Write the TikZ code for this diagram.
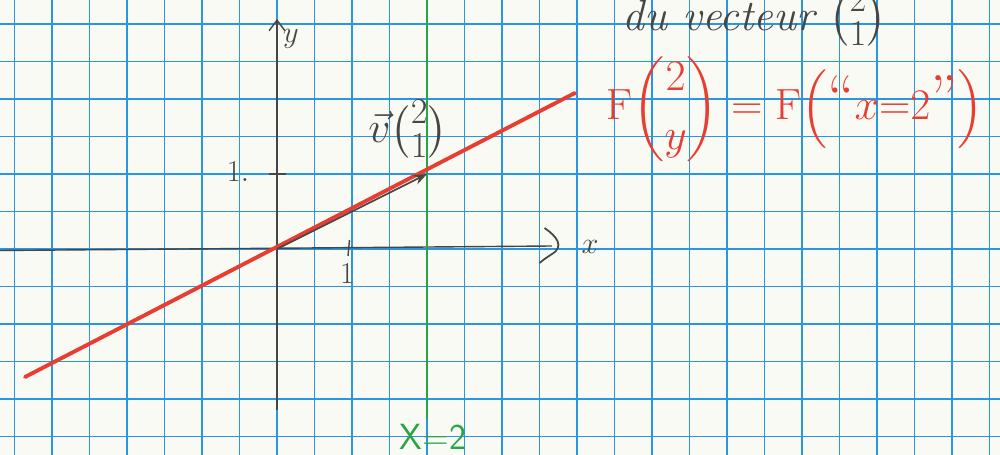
\documentclass[tikz,border=0pt]{standalone}
\usepackage{amsmath}
\usepackage{tikz}
\usetikzlibrary{arrows.meta, positioning}

\definecolor{paper}{RGB}{250,250,244}
\definecolor{gridblue}{RGB}{40,150,225}
\definecolor{pencil}{RGB}{70,70,70}
\definecolor{redpen}{RGB}{232,62,50}
\definecolor{greenpen}{RGB}{40,165,70}

\begin{document}
\begin{tikzpicture}[
    >=Stealth,
    gridline/.style={gridblue, line width=0.9pt},
    axis/.style={pencil, line width=0.8pt},
    lbl/.style={pencil, inner sep=1pt},
    redlbl/.style={redpen, inner sep=1pt},
]
% === Paper and grid ===
\useasboundingbox (-5.54,-4.12) rectangle (14.46,4.98);
\fill[paper] (-5.54,-4.12) rectangle (14.46,4.98);
\foreach \i in {-7,...,19} {
    \draw[gridline] (\i*0.75,-4.12) -- (\i*0.75,4.98);
}
\foreach \j in {-5,...,6} {
    \draw[gridline] (-5.54,\j*0.75) -- (14.46,\j*0.75);
}
%
\coordinate (O) at (0,0);
\coordinate (V) at (3,1.5);
% === Axes ===
\draw[axis, -{Straight Barb[length=6pt, width=9pt]}] (0,-3.22) -- (0,4.6);
\draw[axis] (-5.54,-0.03) -- (5.5,0.06);
\draw[axis, line width=1pt] (5.35,0.42) .. controls (5.6,0.25) and (5.75,0.05) .. (5.5,-0.1)
    .. controls (5.35,-0.2) .. (5.25,-0.28);
\node[lbl, font=\LARGE] (ylbl) at (0.28,4.2) {$y$};
\node[lbl, font=\LARGE] (xlbl) at (6.26,0.05) {$x$};
% ticks
\draw[axis] (1.45,0.18) -- (1.42,-0.14);
\node[lbl, font=\LARGE] (xone) at (1.4,-0.5) {$1$};
\draw[axis] (-0.15,1.5) -- (0.18,1.5);
\node[lbl, font=\LARGE] (yone) at (-0.78,1.55) {$1.$};
% === Line x=2 ===
\draw[greenpen, line width=1pt] (3,4.98) -- (3,-3.38);
\node[greenpen, font=\huge\sffamily] (xeq) at (3.12,-3.75) {X=2};
% === Red line y=x/2 ===
\draw[redpen, line width=2.2pt, line cap=round] (-5.04,-2.56) -- (5.96,3.12);
% === Vector ===
\draw[pencil, line width=1pt, ->] (O) -- (V);
\node[lbl, font=\Huge] (vlbl) at (2.62,2.4) {$\vec v\binom{2}{1}$};
% === Texts on the right ===
\node[redlbl, font=\fontsize{36}{42}\selectfont] (flbl) at (10.36,2.8)
    {$\mathrm{F}\dbinom{2}{y}=\mathrm{F}\Bigl(\text{``}x{=}2\text{''}\Bigr)$};
\node[lbl, font=\Huge\itshape] (top) at (9.55,4.64) {du vecteur $\binom{2}{1}$};
\end{tikzpicture}
\end{document}
